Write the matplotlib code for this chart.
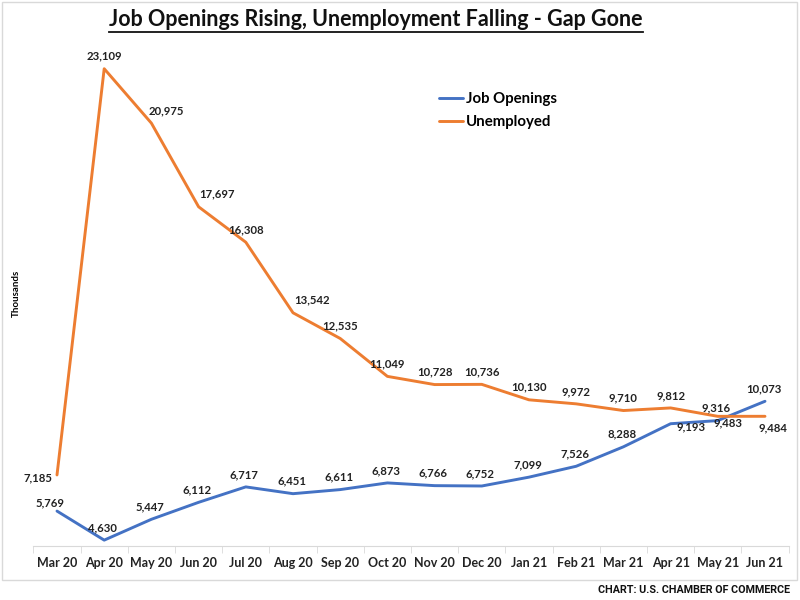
import matplotlib
matplotlib.use("Agg")
import matplotlib.pyplot as plt
from matplotlib.lines import Line2D
from matplotlib.patches import Rectangle

months = ["Mar 20", "Apr 20", "May 20", "Jun 20", "Jul 20", "Aug 20", "Sep 20", "Oct 20",
          "Nov 20", "Dec 20", "Jan 21", "Feb 21", "Mar 21", "Apr 21", "May 21", "Jun 21"]
job_openings = [5769, 4630, 5447, 6112, 6717, 6451, 6611, 6873, 6766, 6752, 7099, 7526,
                8288, 9193, 9316, 10073]
unemployed = [7185, 23109, 20975, 17697, 16308, 13542, 12535, 11049, 10728, 10736, 10130,
              9972, 9710, 9812, 9483, 9484]

FONT = "Lato"
plt.rcParams['font.family'] = [FONT, 'DejaVu Sans']

fig = plt.figure(figsize=(8, 6), dpi=100)
W, H = 800, 600

# chart-area border
fig.patches.append(Rectangle((2 / W, 1 - 580 / H), 795 / W, 578 / H, transform=fig.transFigure,
                             fill=False, edgecolor="#d9d9d9", linewidth=1))

left, right, bottom, top = 33.4, 788.6, 546, 40
ax = fig.add_axes([left / W, 1 - bottom / H, (right - left) / W, (bottom - top) / H])
ax.set_facecolor("none")

x = list(range(len(months)))
blue = "#4472C4"
orange = "#ED7D31"
ax.plot(x, job_openings, color=blue, lw=2.1, label="Job Openings", solid_capstyle="round")
ax.plot(x, unemployed, color=orange, lw=2.1, label="Unemployed", solid_capstyle="round")

ax.set_xlim(-0.5, len(months) - 0.5)
ax.set_ylim(4400, 24235)

for s in ["left", "top", "right"]:
    ax.spines[s].set_visible(False)
ax.spines["bottom"].set_color("#d9d9d9")
ax.set_yticks([])
ax.set_xticks(x)
ax.set_xticklabels(months, fontsize=9, fontweight="bold", color="#222222")
ax.tick_params(axis="x", which="major", length=0, pad=8)
ax.set_xticks([i - 0.5 for i in range(len(months) + 1)], minor=True)
ax.tick_params(axis="x", which="minor", length=5, color="#d9d9d9", direction="out")

ax.set_ylabel("Thousands", fontsize=7, fontweight="bold", labelpad=9)

lab_kw = dict(fontsize=8.2, fontweight="bold", color="#222222", textcoords="offset points")

def fmt(v):
    return f"{v:,}"

# Job openings labels
for i, v in enumerate(job_openings):
    if i == 13:
        ax.annotate(fmt(v), (i, v), xytext=(4, -2), ha="left", va="center", **lab_kw)
    elif i == 0:
        ax.annotate(fmt(v), (i, v), xytext=(-5, 6), ha="center", va="center", **lab_kw)
    else:
        ax.annotate(fmt(v), (i, v), xytext=(-1, 9), ha="center", va="center", **lab_kw)

# Unemployed labels
right_shift = {2: 11, 3: 13, 5: 14}
for i, v in enumerate(unemployed):
    if i == 0:
        ax.annotate(fmt(v), (i, v), xytext=(-3, -2), ha="right", va="center", **lab_kw)
    elif i == 14:
        ax.annotate(fmt(v), (i, v), xytext=(7, -5), ha="center", va="center", **lab_kw)
    elif i == 15:
        ax.annotate(fmt(v), (i, v), xytext=(6, -8), ha="center", va="center", **lab_kw)
    else:
        ax.annotate(fmt(v), (i, v), xytext=(right_shift.get(i, 0), 9), ha="center",
                    va="center", **lab_kw)

leg = ax.legend(loc="upper left", bbox_to_anchor=(0.519, 0.924), frameon=False,
                prop={"family": FONT, "weight": "bold", "size": 10.8},
                handlelength=1.6, handletextpad=0.2, labelspacing=0.6)

title = fig.text(376 / W, 1 - 20 / H, "Job Openings Rising, Unemployment Falling - Gap Gone",
                 ha="center", va="center", fontsize=15.5, fontweight="bold", color="#111111")

footer = fig.text(790 / W, 1 - 590 / H, "CHART: U.S. CHAMBER OF COMMERCE", ha="right",
                  va="center", fontsize=9, fontweight="bold", family=["Roboto", "DejaVu Sans"],
                  color="#111111")

# fit footer width to the reference (~192 px) and underline the title
fig.canvas.draw()
r = fig.canvas.get_renderer()
fw = footer.get_window_extent(renderer=r).width
footer.set_fontsize(9 * 192 / fw)
bb = title.get_window_extent(renderer=r)
uy = (bb.y0 - 1) / H
fig.lines.append(Line2D([bb.x0 / W, bb.x1 / W], [uy, uy], transform=fig.transFigure,
                        color="#111111", lw=1.3))

fig.savefig("out.png", dpi=100)
